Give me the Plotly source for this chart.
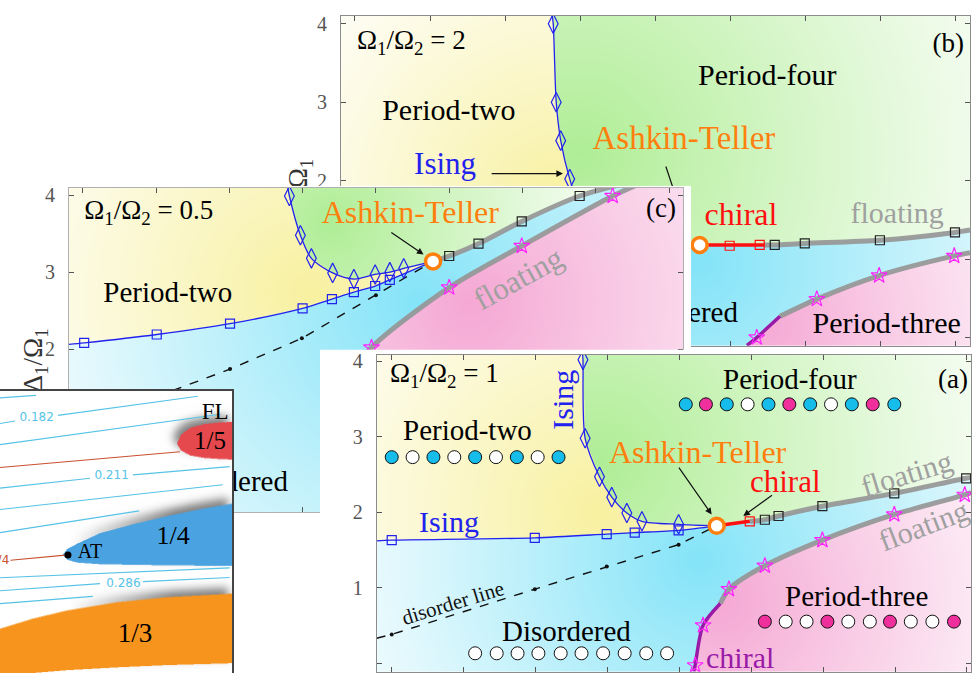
import base64
import struct
import zlib

import numpy as np
import plotly.graph_objects as go

# ---------------------------------------------------------------- data
# panel (a): Omega1/Omega2 = 1
a_ising_sq_x = [0.0, 1.99, 2.99, 3.38, 3.99]
a_ising_sq_y = [1.63, 1.66, 1.71, 1.73, 1.76]
a_ising_line_x = [-0.21, 0.0, 1.99, 2.99, 3.38, 3.99, 4.52]
a_ising_line_y = [1.62, 1.63, 1.66, 1.71, 1.73, 1.76, 1.82]
a_diam_x = [2.66, 2.69, 2.89, 3.06, 3.27, 3.48, 3.99]
a_diam_y = [4.02, 2.98, 2.47, 2.20, 1.99, 1.88, 1.84]
a_diam_line_x = [2.65, 2.66, 2.69, 2.89, 3.06, 3.27, 3.48, 3.99, 4.52]
a_diam_line_y = [4.15, 4.02, 2.98, 2.47, 2.20, 1.99, 1.88, 1.84, 1.82]
a_at_x, a_at_y = [4.52], [1.82]
a_chiral_x = [4.52, 4.98]
a_chiral_y = [1.82, 1.88]
a_chiral_sq_x, a_chiral_sq_y = [4.98], [1.88]
a_float_sq_x = [5.19, 5.38, 5.99, 6.99, 7.99]
a_float_sq_y = [1.90, 1.95, 2.08, 2.25, 2.45]
a_float_line_x = [4.98, 5.19, 5.38, 5.99, 6.99, 7.99, 8.06]
a_float_line_y = [1.88, 1.90, 1.95, 2.08, 2.25, 2.45, 2.46]
a_star_x = [4.22, 4.33, 4.69, 5.19, 5.99, 6.99, 7.97]
a_star_y = [-0.03, 0.50, 0.98, 1.29, 1.63, 1.97, 2.23]
a_p3chiral_x = [4.20, 4.22, 4.33, 4.57]
a_p3chiral_y = [-0.11, -0.03, 0.50, 0.79]
a_p3float_x = [4.57, 4.69, 5.19, 5.99, 6.99, 7.97, 8.06]
a_p3float_y = [0.79, 0.98, 1.29, 1.63, 1.97, 2.23, 2.26]
a_dis_x = [0.0, 1.99, 2.99, 3.99]
a_dis_y = [0.38, 0.98, 1.28, 1.57]
a_dis_line_x = [-0.21, 0.0, 1.99, 2.99, 3.99, 4.52]
a_dis_line_y = [0.33, 0.38, 0.98, 1.28, 1.57, 1.82]

# atom chains drawn in panel (a)
chain_p2_x = [0.0, 0.29, 0.58, 0.87, 1.16, 1.45, 1.74, 2.03, 2.32]
chain_p2_y = 2.73
chain_p2_state = "CWCWCWCWC"
chain_p4_x = [4.09, 4.37, 4.66, 4.95, 5.24, 5.53, 5.82, 6.11, 6.40, 6.69, 6.99]
chain_p4_y = 3.43
chain_p4_state = "CMCWCMCWCMC"
chain_p3_x = [5.19, 5.48, 5.77, 6.06, 6.35, 6.65, 6.93, 7.22, 7.52, 7.82]
chain_p3_y = 0.55
chain_p3_state = "MWWMWWMWWM"
chain_dis_x = [1.16, 1.46, 1.75, 2.04, 2.35, 2.64, 2.94, 3.24, 3.54, 3.83]
chain_dis_y = 0.13
chain_dis_state = "WWWWWWWWWW"

# panel (b): Omega1/Omega2 = 2
b_ising_line_x = [-0.19, 0.0, 1.0, 2.0, 3.0, 4.0, 4.59]
b_ising_line_y = [0.95, 0.96, 1.00, 1.04, 1.08, 1.13, 1.18]
b_diam_x = [2.64, 2.68, 2.74, 2.86]
b_diam_y = [4.00, 3.00, 2.51, 2.02]
b_diam_line_x = [2.62, 2.64, 2.68, 2.74, 2.86, 3.00, 3.30, 3.80, 4.59]
b_diam_line_y = [4.15, 4.00, 3.00, 2.51, 2.02, 1.65, 1.38, 1.24, 1.18]
b_at_x, b_at_y = [4.59], [1.18]
b_chiral_x = [4.59, 5.45]
b_chiral_y = [1.18, 1.18]
b_chiral_sq_x = [4.99, 5.39]
b_chiral_sq_y = [1.17, 1.18]
b_float_sq_x = [5.59, 5.99, 6.99, 7.99]
b_float_sq_y = [1.18, 1.20, 1.24, 1.34]
b_float_line_x = [5.45, 5.59, 5.99, 6.99, 7.99, 8.19]
b_float_line_y = [1.18, 1.18, 1.20, 1.24, 1.34, 1.37]
b_star_x = [5.35, 6.15, 6.98, 7.98]
b_star_y = [0.00, 0.49, 0.79, 1.04]
b_p3chiral_x = [5.22, 5.35, 5.66]
b_p3chiral_y = [-0.10, 0.00, 0.27]
b_p3float_x = [5.66, 6.15, 6.98, 7.98, 8.19]
b_p3float_y = [0.27, 0.49, 0.79, 1.04, 1.08]
b_at_arrow_x = [4.14, 4.45]
b_at_arrow_y = [2.18, 1.29]

# panel (c): Omega1/Omega2 = 0.5
c_ising_sq_x = [0.02, 1.01, 2.01, 3.00, 3.40, 3.70, 3.99, 4.19]
c_ising_sq_y = [2.08, 2.19, 2.33, 2.53, 2.65, 2.74, 2.82, 2.90]
c_ising_line_x = [-0.19] + c_ising_sq_x + [4.78]
c_ising_line_y = [2.06] + c_ising_sq_y + [3.14]
c_diam_x = [2.82, 2.97, 3.12, 3.41, 3.70, 3.99, 4.19, 4.38]
c_diam_y = [3.99, 3.48, 3.18, 2.99, 2.91, 2.97, 3.00, 3.05]
c_diam_line_x = [2.79] + c_diam_x + [4.78]
c_diam_line_y = [4.15] + c_diam_y + [3.14]
c_at_x, c_at_y = [4.78], [3.14]
c_float_sq_x = [5.00, 5.40, 5.99, 6.78]
c_float_sq_y = [3.21, 3.37, 3.66, 3.99]
c_float_line_x = [4.78, 5.00, 5.40, 5.99, 6.78, 7.60]
c_float_line_y = [3.14, 3.21, 3.37, 3.66, 3.99, 4.20]
c_star_x = [3.94, 5.00, 5.99, 7.23]
c_star_y = [2.02, 2.80, 3.34, 3.99]
c_p3_line_x = [3.35, 3.55, 3.94, 5.00, 5.99, 7.23, 7.60]
c_p3_line_y = [-0.15, 1.50, 2.02, 2.80, 3.34, 3.99, 4.15]
c_dis_x = [1.00, 2.01, 2.99, 4.00]
c_dis_y = [1.38, 1.74, 2.14, 2.70]
c_dis_line_x = c_dis_x + [4.78]
c_dis_line_y = c_dis_y + [3.14]

# y tick labels of each panel (labels hidden behind the panel above are left blank)
a_ytext = ["0", "1", "2", "3", "4"]
b_ytext = ["", "", "2", "3", "4"]
c_ytext = ["", "", "2", "3", "4"]

# inset: commensurate lobes and wave-vector contours (unit box coordinates)
ins_fifth_x = [0.763, 0.78, 0.82, 0.88, 0.95, 1.01]
ins_fifth_up = [0.814, 0.845, 0.870, 0.883, 0.889, 0.891]
ins_fifth_lo = [0.814, 0.790, 0.772, 0.763, 0.759, 0.757]
ins_quarter_x = [0.272, 0.290, 0.331, 0.431, 0.575, 0.718, 0.862, 1.01]
ins_quarter_up = [0.421, 0.440, 0.458, 0.496, 0.528, 0.556, 0.581, 0.602]
ins_quarter_lo = [0.419, 0.402, 0.392, 0.386, 0.384, 0.382, 0.381, 0.380]
ins_third_x = [0.0, 0.142, 0.289, 0.504, 0.720, 1.01]
ins_third_up = [0.157, 0.193, 0.222, 0.251, 0.269, 0.282]
ins_third_lo = [-0.01, 0.0, 0.01, 0.02, 0.028, 0.035]

ins_blue_lines = [
    ([0.0, 0.155], [0.976, 0.985]),
    ([0.0, 0.065, None, 0.25, 0.853], [0.885, 0.894, None, 0.914, 0.982]),
    ([0.0, 0.95], [0.810, 0.918]),
    ([0.0, 0.388, None, 0.573, 0.99], [0.656, 0.691, None, 0.703, 0.732]),
    ([0.0, 0.96], [0.580, 0.668]),
    ([0.0, 0.60], [0.498, 0.575]),
    ([0.0, 0.99], [0.338, 0.373]),
    ([0.0, 0.431, None, 0.616, 0.99], [0.292, 0.317, None, 0.324, 0.339]),
    ([0.0, 0.40], [0.246, 0.272]),
]
ins_red_lines = [
    ([0.0, 0.776], [0.729, 0.785]),
    ([0.045, 0.293], [0.400, 0.419]),
]
ins_blue_labels = ["0.182", "0.211", "0.286"]
ins_blue_label_x = [0.158, 0.481, 0.532]
ins_blue_label_y = [0.903, 0.699, 0.317]
ins_at_x, ins_at_y = [0.293], [0.419]
ins_side_blue_y = [0.458, 0.423]
ins_side_orange_y = [0.141, 0.053]
ins_side_x = 1.039

# ---------------------------------------------------------------- style
W, H = 973, 673
SERIF = "Liberation Serif, Times New Roman, serif"
SANS = "DejaVu Sans, sans-serif"
BLUE = "#2222ee"
ORANGE = "#ff7f0e"
RED = "#ff1010"
PURPLE = "#9a1aa8"
GRAY = "rgba(150,150,150,0.92)"
FLOAT_TXT = "#a0a0a0"
MAGENTA = "#ff22ff"
CHAIN_COL = {"C": "#16bdea", "M": "#ee2f9c", "W": "#ffffff"}

# frame rectangles (left, top, right, bottom) in pixels and axis ranges
A_FRAME, A_XR, A_YR = (376.7, 352.7, 971.0, 671.7), [-0.209, 8.057], [-0.114, 4.083]
B_FRAME, B_XR, B_YR = (341.0, 11.0, 970.0, 343.3), [-0.186, 8.19], [-0.105, 4.10]
C_FRAME, C_XR, C_YR = (69.0, 184.3, 683.0, 511.0), [-0.187, 8.19], [-0.12, 4.095]
I_FRAME = (0.0, 389.0, 232.0, 673.0)
A_PAPER = (320.0, 347.0, 973.0, 673.0)
C_PAPER = (60.0, 182.0, 691.0, 512.5)

# region colours: base colour, focus (px), radius (px)
A_LOOK = {"yellow": ((248, 241, 160), (600, 510), 340), "green": ((176, 238, 150), (600, 460), 430),
          "blue": ((132, 228, 248), (700, 560), 390), "pink": ((245, 168, 212), (720, 600), 340)}
B_LOOK = {"yellow": ((248, 241, 160), (560, 200), 310), "green": ((176, 238, 150), (580, 150), 470),
          "blue": ((132, 228, 248), (700, 260), 420), "pink": ((245, 168, 212), (760, 320), 320)}
C_LOOK = {"yellow": ((248, 241, 160), (310, 290), 340), "green": ((176, 238, 150), (330, 220), 300),
          "blue": ((132, 228, 248), (420, 300), 430), "pink": ((245, 168, 212), (470, 300), 400)}


def dom(frame):
    x0, y0, x1, y1 = frame
    return [max(0.0, x0 / W), min(1.0, x1 / W)], [max(0.0, 1 - y1 / H), min(1.0, 1 - y0 / H)]


def png_uri(rgb):
    h, w, _ = rgb.shape
    raw = b"".join(b"\x00" + rgb[i].tobytes() for i in range(h))

    def chunk(tag, data):
        body = tag + data
        return struct.pack(">I", len(data)) + body + struct.pack(">I", zlib.crc32(body) & 0xFFFFFFFF)

    png = (b"\x89PNG\r\n\x1a\n" + chunk(b"IHDR", struct.pack(">IIBBBBB", w, h, 8, 2, 0, 0, 0))
           + chunk(b"IDAT", zlib.compress(raw, 9)) + chunk(b"IEND", b""))
    return "data:image/png;base64," + base64.b64encode(png).decode()


def panel_background(frame, xr, yr, upper_x, upper_y, star_x, star_y, diam_x, diam_y, x_at, look):
    x0p, y0p, x1p, y1p = frame
    sc = 2
    ww, hh = int(round(x1p - x0p)) * sc, int(round(y1p - y0p)) * sc
    fx, fy = np.meshgrid((np.arange(ww) + 0.5) / ww, (np.arange(hh) + 0.5) / hh)
    X = xr[0] + fx * (xr[1] - xr[0])
    Y = yr[1] - fy * (yr[1] - yr[0])
    PX = x0p + fx * (x1p - x0p)
    PY = y0p + fy * (y1p - y0p)
    U = np.interp(X, upper_x, upper_y)
    S = np.interp(X, star_x, star_y, left=-np.inf, right=np.inf)
    D = np.interp(X, diam_x, diam_y)
    pink = Y < S
    blue = ~pink & (Y < U)
    yellow = ~pink & ~blue & (X < x_at) & ((X < diam_x[0]) | (Y < D))
    green = ~pink & ~blue & ~yellow
    img = np.full((hh, ww, 3), 255.0)
    for name, mask in (("yellow", yellow), ("green", green), ("blue", blue), ("pink", pink)):
        base, (cx, cy), R = look[name]
        d = np.hypot(PX - cx, PY - cy)
        s = 0.07 + 0.93 * np.clip(1 - d / R, 0, 1) ** 1.15
        col = 255.0 - s[..., None] * (255.0 - np.array(base, dtype=float))
        img[mask] = col[mask]
    img = img.reshape(hh // sc, sc, ww // sc, sc, 3).mean(axis=(1, 3))
    return np.clip(img, 0, 255).astype(np.uint8)


def blur(a, sigma):
    r = int(3 * sigma)
    k = np.exp(-0.5 * (np.arange(-r, r + 1) / sigma) ** 2)
    k /= k.sum()
    f = lambda v: np.convolve(np.pad(v, r, mode="edge"), k, mode="valid")
    return np.apply_along_axis(f, 1, np.apply_along_axis(f, 0, a))


def inset_background(frame):
    x0p, y0p, x1p, y1p = frame
    sc = 2
    ww, hh = int(round(x1p - x0p)) * sc, int(round(y1p - y0p)) * sc
    fx, fy = np.meshgrid((np.arange(ww) + 0.5) / ww, (np.arange(hh) + 0.5) / hh)
    X, Y = fx, 1 - fy
    img = np.full((hh, ww, 3), 255.0)
    lobes = [(ins_fifth_x, ins_fifth_up, ins_fifth_lo, (229, 72, 77)),
             (ins_quarter_x, ins_quarter_up, ins_quarter_lo, (74, 163, 224)),
             (ins_third_x, ins_third_up, ins_third_lo, (247, 148, 29))]
    union = np.zeros((hh, ww))
    masks = []
    for lx, lu, ll, col in lobes:
        m = (X >= lx[0]) & (Y <= np.interp(X, lx, lu)) & (Y >= np.interp(X, lx, ll))
        masks.append((m, col))
        union = np.maximum(union, m)
    # soft grey shadow spilling above the lobes
    sy, sx = 6 * sc, 4 * sc
    shifted = np.zeros_like(union)
    shifted[:-sy, :-sx] = union[sy:, sx:]
    shadow = blur(shifted, 4.5 * sc) * np.clip((X - 0.3) / 0.45, 0, 1) * 0.8 * (1 - union)
    img = img * (1 - shadow[..., None]) + 95.0 * shadow[..., None]
    for m, col in masks:
        img[m] = col
    img = img.reshape(hh // sc, sc, ww // sc, sc, 3).mean(axis=(1, 3))
    return np.clip(img, 0, 255).astype(np.uint8)


# ---------------------------------------------------------------- figure
fig = go.Figure()
layout = dict(width=W, height=H, margin=dict(l=0, r=0, t=0, b=0), paper_bgcolor="white",
              plot_bgcolor="rgba(0,0,0,0)", showlegend=False, hovermode=False)
images, annotations, shapes = [], [], []


def frame_axes(n, frame, xr, yr, linecolor, ytext):
    xd, yd = dom(frame)
    sfx = "" if n == 1 else str(n)
    common = dict(showgrid=False, zeroline=False, fixedrange=True, ticks="inside", ticklen=5,
                  tickcolor="#555", showline=True, linecolor=linecolor, linewidth=1, mirror="ticks")
    layout["xaxis" + sfx] = dict(domain=xd, range=xr, anchor="y" + sfx, tickvals=list(range(9)),
                                 showticklabels=False, **common)
    layout["yaxis" + sfx] = dict(domain=yd, range=yr, anchor="x" + sfx, tickvals=[0, 1, 2, 3, 4],
                                 ticktext=ytext, ticklabelstandoff=9,
                                 tickfont=dict(family=SERIF, size=20, color="#555"), **common)


def blank_axes(n, frame, xr=(0, 1), yr=(0, 1)):
    xd, yd = dom(frame)
    layout["xaxis%d" % n] = dict(domain=xd, range=list(xr), anchor="y%d" % n, visible=False, fixedrange=True)
    layout["yaxis%d" % n] = dict(domain=yd, range=list(yr), anchor="x%d" % n, visible=False, fixedrange=True)


def white_sheet(n):
    fig.add_trace(go.Scatter(x=[0, 1, 1, 0, 0], y=[0, 0, 1, 1, 0], mode="lines", fill="toself",
                             fillcolor="white", line=dict(color="white", width=0),
                             xaxis="x%d" % n, yaxis="y%d" % n, hoverinfo="skip"))


def bg_image(n, frame, xr, yr, rgb):
    sfx = "" if n == 1 else str(n)
    images.append(dict(source=png_uri(rgb), xref="x" + sfx, yref="y" + sfx, x=xr[0], y=yr[1],
                       sizex=xr[1] - xr[0], sizey=yr[1] - yr[0], xanchor="left", yanchor="top",
                       sizing="stretch", layer="below"))


def line(n, x, y, color, width, dash=None, shape="spline", smoothing=0.8):
    sfx = "" if n == 1 else str(n)
    fig.add_trace(go.Scatter(x=x, y=y, mode="lines", xaxis="x" + sfx, yaxis="y" + sfx, hoverinfo="skip",
                             line=dict(color=color, width=width, dash=dash, shape=shape, smoothing=smoothing)))


def marks(n, x, y, symbol, color, size, lw=1.2, fill=None, clip=True):
    sfx = "" if n == 1 else str(n)
    mk = dict(symbol=symbol, color=fill if fill else color, size=size, line=dict(color=color, width=lw))
    fig.add_trace(go.Scatter(x=x, y=y, mode="markers", xaxis="x" + sfx, yaxis="y" + sfx, marker=mk,
                             hoverinfo="skip", cliponaxis=clip))


def words(n, x, y, text, size, color="black", pos="middle center", family=SERIF):
    sfx = "" if n == 1 else str(n)
    fig.add_trace(go.Scatter(x=x, y=y, mode="text", text=text, textposition=pos, xaxis="x" + sfx,
                             yaxis="y" + sfx, hoverinfo="skip",
                             textfont=dict(family=family, size=size, color=color)))


def note(n, x, y, text, size, color="black", angle=0):
    sfx = "" if n == 1 else str(n)
    annotations.append(dict(x=x, y=y, xref="x" + sfx, yref="y" + sfx, text=text, showarrow=False,
                            textangle=angle, font=dict(family=SERIF, size=size, color=color)))


def arrow(n, tail, head):
    sfx = "" if n == 1 else str(n)
    annotations.append(dict(x=head[0], y=head[1], ax=tail[0], ay=tail[1], xref="x" + sfx, yref="y" + sfx,
                            axref="x" + sfx, ayref="y" + sfx, text="", showarrow=True, arrowhead=2,
                            arrowsize=1.1, arrowwidth=1.2, arrowcolor="#111", standoff=0))


def phase_lines(n, upper_gray, lower_parts, red, blue_sq, diam, dis, at, sq_markers, star_markers,
                red_sq, diam_markers, dis_markers):
    line(n, *upper_gray, GRAY, 5)
    for xs, ys, col in lower_parts:
        line(n, xs, ys, col, 5 if col == GRAY else 3.5)
    if red:
        line(n, *red, RED, 3.5, shape="linear")
    if dis:
        line(n, *dis, "#111", 1.4, dash="dash", shape="linear")
    line(n, *blue_sq, BLUE, 1.3)
    line(n, *diam, BLUE, 1.3)
    if dis_markers:
        marks(n, *dis_markers, "circle", "#111", 4, lw=0)
    marks(n, *sq_markers[0], "square-open", BLUE, 9)
    marks(n, *diam_markers, "diamond-tall-open", BLUE, 14)
    if red_sq:
        marks(n, *red_sq, "square-open", RED, 9)
    marks(n, *sq_markers[1], "square-open", "#222", 9)
    marks(n, *star_markers, "star-open", MAGENTA, 12)
    marks(n, *at, "circle", ORANGE, 15, lw=3.5, fill="white")


# -------- panel (b), drawn first (bottom of the stack)
frame_axes(1, B_FRAME, B_XR, B_YR, "#8c8c8c", b_ytext)
b_upper_x = b_ising_line_x + b_chiral_x[1:] + b_float_line_x[1:]
b_upper_y = b_ising_line_y + b_chiral_y[1:] + b_float_line_y[1:]
bg_image(1, B_FRAME, B_XR, B_YR, panel_background(
    B_FRAME, B_XR, B_YR, b_upper_x, b_upper_y, b_p3chiral_x + b_p3float_x[1:], b_p3chiral_y + b_p3float_y[1:],
    b_diam_line_x, b_diam_line_y, b_at_x[0], B_LOOK))
phase_lines(1, (b_float_line_x, b_float_line_y),
            [(b_p3float_x, b_p3float_y, GRAY), (b_p3chiral_x, b_p3chiral_y, PURPLE)],
            (b_chiral_x, b_chiral_y), (b_ising_line_x, b_ising_line_y), (b_diam_line_x, b_diam_line_y),
            None, (b_at_x, b_at_y), (([], []), (b_float_sq_x, b_float_sq_y)), (b_star_x, b_star_y),
            (b_chiral_sq_x, b_chiral_sq_y), (b_diam_x, b_diam_y), None)
line(1, b_at_arrow_x, b_at_arrow_y, "#111", 1.2, shape="linear")
words(1, [0.75], [3.76], ["Ω<sub>1</sub>/Ω<sub>2</sub> = 2"], 27)
words(1, [1.25], [2.87], ["Period-two"], 30)
words(1, [1.20], [2.18], ["Ising"], 31, BLUE)
words(1, [5.49], [3.32], ["Period-four"], 30)
words(1, [7.90], [3.73], ["(b)"], 27)
words(1, [4.38], [2.51], ["Ashkin-Teller"], 33, ORANGE)
words(1, [5.14], [1.54], ["chiral"], 32, RED)
words(1, [7.22], [1.56], ["floating"], 30, FLOAT_TXT)
words(1, [5.10], [0.29], ["Disordered"], 29, pos="middle left")
words(1, [7.08], [0.15], ["Period-three"], 30)
arrow(1, (1.80, 2.09), (2.77, 2.09))

# -------- panel (c)
blank_axes(2, C_PAPER)
white_sheet(2)
frame_axes(3, C_FRAME, C_XR, C_YR, "#b0b0b0", c_ytext)
c_upper_x = c_ising_line_x + c_float_line_x[1:]
c_upper_y = c_ising_line_y + c_float_line_y[1:]
bg_image(3, C_FRAME, C_XR, C_YR, panel_background(
    C_FRAME, C_XR, C_YR, c_upper_x, c_upper_y, c_p3_line_x, c_p3_line_y,
    c_diam_line_x, c_diam_line_y, c_at_x[0], C_LOOK))
phase_lines(3, (c_float_line_x, c_float_line_y), [(c_p3_line_x, c_p3_line_y, GRAY)], None,
            (c_ising_line_x, c_ising_line_y), (c_diam_line_x, c_diam_line_y), (c_dis_line_x, c_dis_line_y),
            (c_at_x, c_at_y), ((c_ising_sq_x, c_ising_sq_y), (c_float_sq_x, c_float_sq_y)),
            (c_star_x, c_star_y), None, (c_diam_x, c_diam_y), (c_dis_x, c_dis_y))
words(3, [0.90], [3.78], ["Ω<sub>1</sub>/Ω<sub>2</sub> = 0.5"], 27)
words(3, [1.16], [2.71], ["Period-two"], 29)
words(3, [4.47], [3.74], ["Ashkin-Teller"], 32, ORANGE)
words(3, [7.89], [3.80], ["(c)"], 27)
words(3, [2.80], [0.25], ["Disordered"], 29, pos="middle left")
note(3, 5.94, 2.92, "floating", 31, FLOAT_TXT, -29)
arrow(3, (4.19, 3.53), (4.65, 3.23))

# -------- inset
xd, yd = dom(I_FRAME)
layout["xaxis4"] = dict(domain=xd, range=[0, 1], anchor="y4", side="top", showline=True, linecolor="#444",
                        linewidth=1.5, mirror=False, showticklabels=False, ticks="", showgrid=False,
                        zeroline=False, fixedrange=True)
layout["yaxis4"] = dict(domain=yd, range=[0, 1], anchor="x4", side="right", showline=True, linecolor="#444",
                        linewidth=1.5, mirror=False, showticklabels=False, ticks="", showgrid=False,
                        zeroline=False, fixedrange=True)
bg_image(4, I_FRAME, [0, 1], [0, 1], inset_background(I_FRAME))
for xs, ys in ins_blue_lines:
    line(4, xs, ys, "#56c3e6", 1.1, shape="linear")
for xs, ys in ins_red_lines:
    line(4, xs, ys, "#c8502d", 1.1, shape="linear")
words(4, ins_blue_label_x, ins_blue_label_y, ins_blue_labels, 12, "#56c3e6", family=SANS)
words(4, [0.04], [0.397], ["1/4"], 12, "#c8502d", pos="middle left", family=SANS)
marks(4, ins_at_x, ins_at_y, "circle", "#000", 7, lw=0)
words(4, [0.388], [0.426], ["AT"], 20)
words(4, [0.927], [0.923], ["FL"], 23)
words(4, [0.905], [0.817], ["1/5"], 25)
words(4, [0.746], [0.479], ["1/4"], 26)
words(4, [0.582], [0.134], ["1/3"], 27)
marks(4, [ins_side_x] * 2, ins_side_blue_y, "triangle-left", "#2b7fc4", 9, lw=0, clip=False)
marks(4, [ins_side_x] * 2, ins_side_orange_y, "triangle-left", "#f7941d", 9, lw=0, clip=False)

# -------- panel (a), on top
blank_axes(5, A_PAPER)
white_sheet(5)
frame_axes(6, A_FRAME, A_XR, A_YR, "#8c8c8c", a_ytext)
a_upper_x = a_ising_line_x + a_chiral_x[1:] + a_float_line_x[1:]
a_upper_y = a_ising_line_y + a_chiral_y[1:] + a_float_line_y[1:]
bg_image(6, A_FRAME, A_XR, A_YR, panel_background(
    A_FRAME, A_XR, A_YR, a_upper_x, a_upper_y, a_p3chiral_x + a_p3float_x[1:], a_p3chiral_y + a_p3float_y[1:],
    a_diam_line_x, a_diam_line_y, a_at_x[0], A_LOOK))
phase_lines(6, (a_float_line_x, a_float_line_y),
            [(a_p3float_x, a_p3float_y, GRAY), (a_p3chiral_x, a_p3chiral_y, PURPLE)],
            (a_chiral_x, a_chiral_y), (a_ising_line_x, a_ising_line_y), (a_diam_line_x, a_diam_line_y),
            (a_dis_line_x, a_dis_line_y), (a_at_x, a_at_y), ((a_ising_sq_x, a_ising_sq_y),
                                                              (a_float_sq_x, a_float_sq_y)),
            (a_star_x, a_star_y), (a_chiral_sq_x, a_chiral_sq_y), (a_diam_x, a_diam_y), (a_dis_x, a_dis_y))

for xs, yv, states in ((chain_p2_x, chain_p2_y, chain_p2_state), (chain_p4_x, chain_p4_y, chain_p4_state),
                       (chain_p3_x, chain_p3_y, chain_p3_state), (chain_dis_x, chain_dis_y, chain_dis_state)):
    fig.add_trace(go.Scatter(x=xs, y=[yv] * len(xs), mode="markers", xaxis="x6", yaxis="y6", hoverinfo="skip",
                             marker=dict(size=13, color=[CHAIN_COL[s] for s in states],
                                         line=dict(color="#111", width=1))))

note(6, 0.74, 3.82, "Ω<sub>1</sub>/Ω<sub>2</sub> = 1", 27)
note(6, 7.81, 3.76, "(a)", 27)
note(6, 1.05, 3.09, "Period-two", 29)
note(6, 0.80, 1.88, "Ising", 30, BLUE)
note(6, 2.38, 3.49, "Ising", 30, BLUE, -90)
note(6, 5.54, 3.76, "Period-four", 29)
note(6, 4.26, 2.80, "Ashkin-Teller", 32, ORANGE)
note(6, 5.47, 2.41, "chiral", 31, RED)
note(6, 7.16, 2.51, "floating", 30, FLOAT_TXT, -17)
note(6, 7.39, 1.82, "floating", 30, FLOAT_TXT, -21)
note(6, 6.46, 0.89, "Period-three", 29)
note(6, 2.43, 0.43, "Disordered", 29)
note(6, 0.85, 0.80, "disorder line", 21, "#111", -17)
note(6, 4.84, 0.08, "chiral", 30, PURPLE)
note(6, -0.72, 1.86, "Δ<sub>1</sub>/Ω<sub>1</sub>", 27, "#333", -90)
arrow(6, (3.98, 2.61), (4.45, 1.97))
arrow(6, (5.31, 2.24), (4.89, 1.95))

# axis titles of the lower panels sit in the paper layer beneath every subplot
for cx, cy in ((297, 187), (32, 358)):
    shapes.append(dict(type="rect", xref="paper", yref="paper", x0=cx / W - 0.001, x1=cx / W + 0.001,
                       y0=1 - cy / H - 0.001, y1=1 - cy / H + 0.001, line=dict(width=0), layer="below",
                       label=dict(text="Δ<sub>1</sub>/Ω<sub>1</sub>", textangle=-90, textposition="middle center",
                                  font=dict(family=SERIF, size=27, color="#333"))))

layout["images"] = images
layout["annotations"] = annotations
layout["shapes"] = shapes
fig.update_layout(**layout)
fig.write_html("out.html")
